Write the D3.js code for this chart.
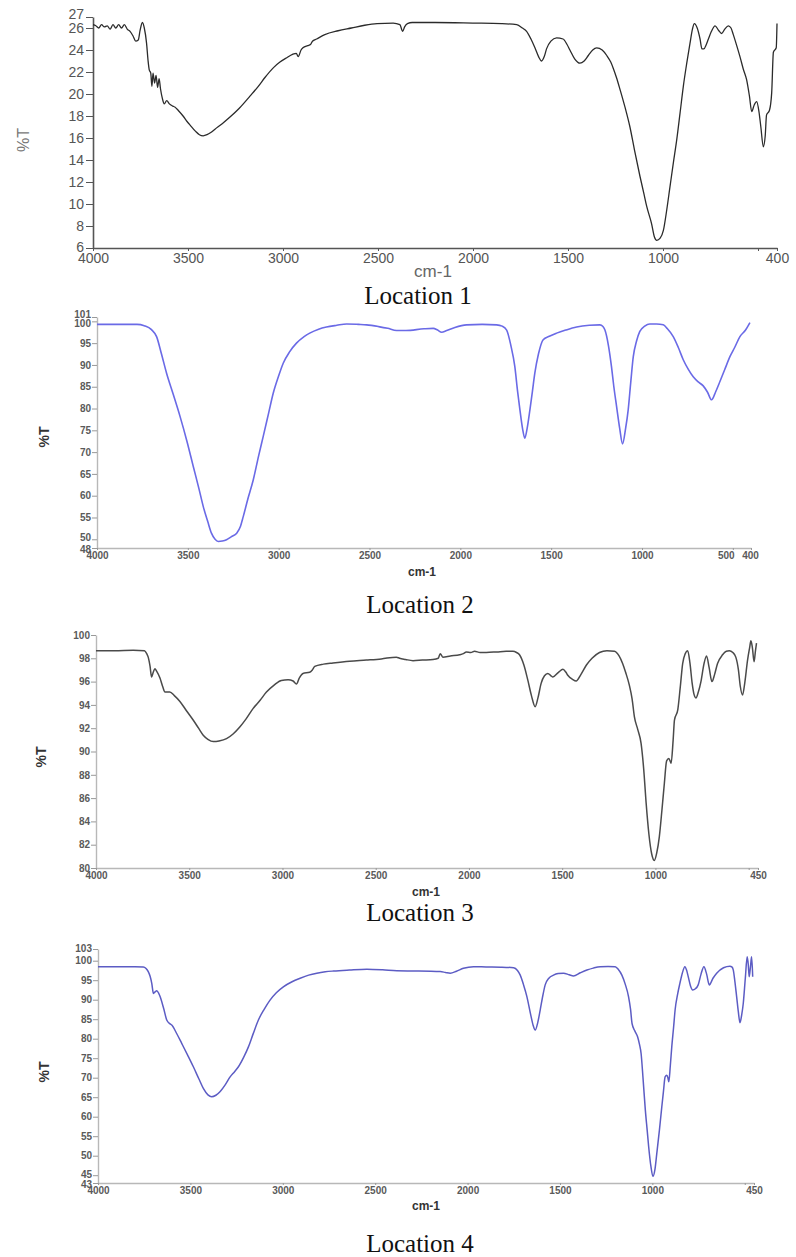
<!DOCTYPE html>
<html><head><meta charset="utf-8">
<script src="https://cdn.jsdelivr.net/npm/d3@7"></script>
<style>body{margin:0;background:#fff}svg{display:block}</style>
</head><body>
<svg id="c" width="796" height="1257"></svg>
<script>
// ---- data: [wavenumber cm-1, %T] ----
const loc1 = [[4000,26.3],[3985,26.2],[3970,26.0],[3955,26.3],[3940,26.1],[3925,26.2],[3910,25.9],[3895,26.3],[3880,26.0],[3865,26.3],[3850,26.0],[3835,26.3],[3820,25.9],[3805,25.7],[3790,25.3],[3775,24.8],[3762,24.9],[3752,25.8],[3740,26.5],[3730,26.0],[3718,24.6],[3710,23.0],[3704,22.2],[3696,21.9],[3690,20.7],[3684,21.9],[3676,21.0],[3668,21.7],[3660,20.6],[3652,21.4],[3645,20.5],[3635,19.6],[3625,19.1],[3612,19.4],[3598,19.1],[3580,18.9],[3568,18.8],[3551,18.5],[3526,18.0],[3505,17.5],[3490,17.2],[3460,16.6],[3440,16.3],[3420,16.2],[3400,16.3],[3380,16.5],[3358,16.8],[3320,17.3],[3279,17.9],[3230,18.7],[3174,19.8],[3130,20.7],[3095,21.5],[3050,22.4],[3016,22.9],[2980,23.3],[2950,23.6],[2930,23.7],[2920,23.4],[2905,24.0],[2895,24.2],[2870,24.4],[2855,24.5],[2845,24.8],[2823,25.0],[2780,25.4],[2710,25.75],[2640,26.0],[2570,26.25],[2505,26.4],[2420,26.45],[2385,26.3],[2370,25.7],[2360,26.1],[2345,26.4],[2320,26.5],[2200,26.5],[2000,26.45],[1850,26.4],[1770,26.3],[1740,26.0],[1718,25.7],[1695,25.0],[1674,24.2],[1655,23.4],[1639,23.0],[1625,23.4],[1613,24.1],[1590,24.8],[1560,25.1],[1526,25.0],[1505,24.5],[1490,24.0],[1465,23.2],[1437,22.8],[1415,23.0],[1393,23.5],[1370,24.0],[1349,24.2],[1320,24.0],[1296,23.5],[1275,22.9],[1261,22.3],[1245,21.5],[1226,20.4],[1200,18.8],[1174,17.0],[1150,14.9],[1121,12.5],[1100,10.9],[1086,9.8],[1060,8.2],[1045,7.0],[1033,6.7],[1015,6.9],[998,7.6],[980,9.5],[963,11.6],[945,13.8],[928,15.8],[910,18.3],[893,20.7],[875,22.8],[858,24.6],[845,25.9],[835,26.4],[820,26.0],[805,25.0],[795,24.1],[785,24.1],[772,24.5],[761,25.0],[745,25.7],[726,26.2],[708,25.8],[691,25.5],[675,25.9],[656,26.2],[642,26.0],[630,25.4],[612,24.4],[595,23.4],[578,22.3],[560,21.3],[545,19.8],[533,18.4],[520,19.0],[507,19.3],[495,18.4],[485,17.0],[472,15.2],[462,16.2],[455,18.1],[440,18.5],[428,20.1],[419,23.8],[404,24.2],[400,26.4]];

const loc2 = [[4000,99.3],[3900,99.3],[3780,99.3],[3740,99.0],[3700,98.1],[3672,96.5],[3645,92.5],[3617,88.1],[3580,83.2],[3543,78.2],[3505,72.5],[3470,66.7],[3440,61.8],[3415,57.5],[3390,54.0],[3370,51.4],[3350,50.0],[3333,49.5],[3310,49.6],[3287,49.9],[3260,50.6],[3231,51.4],[3210,53.0],[3195,55.2],[3170,59.2],[3140,63.6],[3110,69.2],[3085,73.6],[3055,79.0],[3030,83.5],[3000,87.5],[2975,90.4],[2940,93.0],[2902,95.0],[2860,96.5],[2829,97.3],[2780,98.2],[2737,98.7],[2680,99.1],[2626,99.4],[2560,99.3],[2516,99.2],[2450,98.8],[2400,98.4],[2351,97.9],[2300,97.9],[2200,98.3],[2149,98.4],[2125,98.0],[2103,97.5],[2075,97.9],[2030,98.6],[1966,99.2],[1880,99.3],[1800,99.2],[1770,98.9],[1745,98.0],[1722,94.5],[1700,89.6],[1685,84.0],[1672,79.7],[1658,75.5],[1645,73.2],[1632,75.5],[1617,79.7],[1603,84.0],[1590,88.1],[1570,92.5],[1544,95.8],[1510,96.6],[1470,97.3],[1420,98.0],[1360,98.7],[1290,99.1],[1232,99.2],[1215,98.8],[1204,98.0],[1185,94.5],[1168,89.6],[1155,85.0],[1140,80.5],[1123,75.5],[1107,71.9],[1090,75.5],[1076,79.7],[1062,86.0],[1048,91.9],[1030,95.5],[1012,97.7],[985,98.9],[957,99.4],[920,99.4],[883,99.2],[860,98.3],[828,96.5],[800,94.0],[773,91.2],[745,89.0],[718,87.3],[690,86.1],[663,85.2],[640,83.8],[617,82.0],[595,83.8],[571,86.2],[545,88.9],[516,91.9],[490,94.0],[461,96.5],[430,98.0],[406,99.7]];

const loc3 = [[4000,98.65],[3900,98.65],[3800,98.7],[3740,98.65],[3728,98.4],[3720,98.1],[3710,97.3],[3702,96.4],[3693,96.8],[3684,97.1],[3675,96.9],[3657,96.3],[3643,95.6],[3630,95.1],[3604,95.1],[3580,94.8],[3550,94.3],[3515,93.5],[3479,92.7],[3450,92.0],[3425,91.4],[3400,91.05],[3371,90.85],[3340,90.9],[3300,91.1],[3265,91.5],[3229,92.1],[3195,92.8],[3157,93.7],[3120,94.4],[3086,95.1],[3045,95.7],[3006,96.1],[2970,96.15],[2943,96.05],[2925,95.8],[2910,96.3],[2890,96.7],[2854,96.8],[2840,97.0],[2827,97.3],[2780,97.5],[2729,97.6],[2640,97.75],[2550,97.85],[2470,97.95],[2389,98.1],[2372,98.0],[2340,97.9],[2300,97.8],[2250,97.85],[2193,97.9],[2165,98.0],[2154,98.4],[2140,98.1],[2100,98.2],[2050,98.3],[2030,98.4],[2014,98.55],[1990,98.5],[1970,98.6],[1940,98.5],[1907,98.5],[1850,98.55],[1800,98.6],[1764,98.6],[1745,98.5],[1729,98.3],[1705,97.4],[1684,96.1],[1665,94.8],[1645,93.85],[1630,94.6],[1613,95.85],[1595,96.5],[1577,96.7],[1560,96.5],[1550,96.4],[1520,96.8],[1496,97.05],[1480,96.8],[1470,96.55],[1445,96.2],[1425,96.05],[1400,96.6],[1371,97.4],[1340,98.0],[1300,98.5],[1260,98.65],[1220,98.6],[1195,98.2],[1176,97.55],[1160,96.8],[1140,95.7],[1125,94.5],[1113,93.0],[1095,91.9],[1077,90.7],[1063,88.5],[1050,85.6],[1035,82.9],[1020,81.2],[1006,80.65],[993,81.3],[979,82.7],[965,85.0],[952,87.3],[940,89.2],[928,89.4],[916,89.0],[905,91.0],[898,92.7],[880,93.6],[867,95.5],[854,97.55],[840,98.4],[827,98.65],[815,97.6],[803,95.85],[793,94.9],[783,94.6],[770,95.1],[756,96.0],[740,97.5],[726,98.2],[712,97.2],[697,96.0],[683,96.6],[667,97.55],[640,98.3],[620,98.6],[604,98.65],[585,98.5],[569,98.1],[555,97.0],[545,95.6],[533,94.85],[520,96.0],[506,97.85],[495,98.9],[488,99.5],[480,98.9],[471,97.7],[464,98.6],[458,99.3]];

const loc4 = [[4000,98.46],[3900,98.46],[3800,98.46],[3755,98.4],[3740,98.0],[3728,97.2],[3718,96.0],[3709,94.2],[3700,91.6],[3691,92.0],[3682,92.3],[3672,91.7],[3664,90.8],[3645,87.8],[3628,84.8],[3610,83.8],[3601,83.5],[3575,81.4],[3547,78.8],[3515,75.8],[3484,72.8],[3455,69.8],[3430,67.25],[3405,65.6],[3385,65.1],[3362,65.5],[3340,66.4],[3310,68.3],[3285,70.2],[3260,71.6],[3240,72.8],[3212,75.2],[3186,77.9],[3160,81.3],[3132,84.8],[3100,87.6],[3069,89.9],[3035,91.8],[2997,93.3],[2950,94.6],[2906,95.5],[2860,96.3],[2816,96.8],[2770,97.15],[2726,97.35],[2640,97.6],[2545,97.8],[2460,97.65],[2383,97.4],[2300,97.35],[2200,97.3],[2148,97.2],[2120,97.0],[2094,96.8],[2060,97.3],[2022,98.05],[1968,98.46],[1900,98.4],[1820,98.35],[1751,98.2],[1730,97.5],[1715,96.3],[1697,93.8],[1679,90.8],[1660,86.5],[1645,83.4],[1634,82.2],[1620,84.2],[1607,87.35],[1595,90.5],[1580,93.8],[1560,95.5],[1535,96.3],[1510,96.7],[1481,96.8],[1450,96.4],[1427,96.1],[1390,96.9],[1354,97.6],[1320,98.1],[1282,98.46],[1240,98.5],[1201,98.46],[1185,97.8],[1165,96.3],[1147,94.0],[1129,90.8],[1118,87.5],[1110,83.9],[1095,82.0],[1080,80.5],[1070,78.6],[1061,76.2],[1050,69.5],[1038,61.7],[1028,56.5],[1020,52.3],[1008,47.3],[997,44.7],[986,46.5],[976,50.6],[962,56.5],[949,62.5],[940,66.5],[931,70.2],[922,70.6],[916,70.0],[911,68.95],[903,73.0],[895,77.9],[885,83.0],[877,87.35],[863,91.5],[851,94.2],[838,96.8],[824,98.46],[815,97.6],[806,95.9],[794,93.6],[782,92.5],[767,92.8],[752,93.8],[737,96.5],[721,98.46],[706,96.5],[692,93.8],[672,95.5],[652,96.8],[615,98.2],[580,98.6],[570,98.4],[562,97.6],[553,94.5],[544,90.8],[535,87.0],[526,84.1],[517,86.0],[508,89.1],[497,95.5],[487,101.0],[481,99.0],[476,95.9],[469,98.5],[463,101.0],[457,95.9]];

// ---- tick labels ----
const xTicks1 = [4000,3500,3000,2500,2000,1500,1000,500,400];
const xLabels1 = ["4000","3500","3000","2500","2000","1500","1000","","400"];
const yTicks1 = [27,26,24,22,20,18,16,14,12,10,8,6];
const xTicks2 = [4000,3500,3000,2500,2000,1500,1000,500,400];
const xLabels2 = ["4000","3500","3000","2500","2000","1500","1000","500","400"];
const yTicks2 = [101,100,95,90,85,80,75,70,65,60,55,50,48];
const xTicks3 = [4000,3500,3000,2500,2000,1500,1000,500,450];
const xLabels3 = ["4000","3500","3000","2500","2000","1500","1000","","450"];
const yTicks3 = [100,98,96,94,92,90,88,86,84,82,80];
const xTicks4 = [4000,3500,3000,2500,2000,1500,1000,500,450];
const xLabels4 = ["4000","3500","3000","2500","2000","1500","1000","","450"];
const yTicks4 = [103,100,95,90,85,80,75,70,65,60,55,50,45,43];
const captions = ["Location 1","Location 2","Location 3","Location 4"];

const svg = d3.select("#c");

const panels = [
  {data:loc1, xd:[4000,400], xr:[93,777], yd:[6,27], yr:[248,17], xt:xTicks1, xl:xLabels1, yt:yTicks1,
   line:"#2b2b2b", lw:1.3, axis:"#555", style:"p1", ylab:[25,140], xlab:[433,277], cap:[418,304], cap_t:captions[0],
   nudge:{27:-3, 6:-1}},
  {data:loc2, xd:[4000,400], xr:[97,751], yd:[48,101], yr:[548,317], xt:xTicks2, xl:xLabels2, yt:yTicks2,
   line:"#6a6ae6", lw:1.6, axis:"#b8b8b8", style:"p2", ylab:[45,437], xlab:[422,576], cap:[420,613], cap_t:captions[1],
   nudge:{101:-3, 100:2, 50:-2, 48:1}},
  {data:loc3, xd:[4000,450], xr:[96,758], yd:[80,100], yr:[868,635], xt:xTicks3, xl:xLabels3, yt:yTicks3,
   line:"#4a4a4a", lw:1.5, axis:"#b8b8b8", style:"p2", ylab:[42,757], xlab:[426,896], cap:[420,921], cap_t:captions[2],
   nudge:{}},
  {data:loc4, xd:[4000,450], xr:[98,754], yd:[43,103], yr:[1183,949], xt:xTicks4, xl:xLabels4, yt:yTicks4,
   line:"#5c5cc4", lw:1.5, axis:"#b8b8b8", style:"p2", ylab:[45,1072], xlab:[426,1210], cap:[420,1252], cap_t:captions[3],
   nudge:{103:-1, 45:-1, 43:1}}
];

panels.forEach(p => {
  const x = d3.scaleLinear().domain(p.xd).range(p.xr);
  const y = d3.scaleLinear().domain(p.yd).range(p.yr);
  const g = svg.append("g");
  const p1 = p.style === "p1";
  const fs = p1 ? 14 : 10;
  const fw = p1 ? "normal" : "bold";
  const tcol = p1 ? "#555" : "#5a5a5a";

  // y axis
  const ya = d3.axisLeft(y).tickValues(p.yt).tickSize(p1 ? 7 : 5).tickSizeOuter(0).tickFormat(d3.format("d"));
  const yg = g.append("g").attr("transform", `translate(${p.xr[0]},0)`).call(ya);
  // x axis
  const xa = d3.axisBottom(x).tickValues(p.xt).tickSize(p1 ? 3 : 2).tickSizeOuter(0).tickFormat((d,i) => p.xl[i]);
  const xg = g.append("g").attr("transform", `translate(0,${p.yr[0]})`).call(xa);
  [yg, xg].forEach(a => {
    a.select(".domain").attr("stroke", p.axis).attr("stroke-width", p1 ? 1.6 : 1.4);
    a.selectAll(".tick line").attr("stroke", p1 ? "#555" : "#999");
    a.selectAll("text").attr("fill", tcol).attr("font-family", "Liberation Sans, Arial, sans-serif")
      .attr("font-size", fs).attr("font-weight", fw);
  });
  yg.selectAll("text").attr("x", p1 ? -9 : -6);
  yg.selectAll(".tick").select("text").attr("dy", d => (0.32 + (p.nudge[d] || 0) / fs) + "em");
  xg.selectAll("text").attr("y", p1 ? 5 : 4);
  if (!p1) {
    // crowded end labels sit side by side, as in the reference
    xg.selectAll(".tick").filter(d => d === 500).select("text").attr("dx", -7);
    xg.selectAll(".tick").filter(d => d === 400).select("text").attr("dx", -1);
  }

  // spectrum
  g.append("path").datum(p.data)
    .attr("fill", "none").attr("stroke", p.line).attr("stroke-width", p.lw).attr("stroke-linejoin", "round")
    .attr("d", d3.line().x(d => x(d[0])).y(d => y(d[1])).curve(d3.curveMonotoneX));

  // axis titles
  g.append("text").attr("transform", `translate(${p.ylab[0]},${p.ylab[1]}) rotate(-90)`)
    .attr("text-anchor", "middle").attr("dominant-baseline", "middle")
    .attr("font-family", "Liberation Sans, Arial, sans-serif")
    .attr("font-size", p1 ? 16 : 14).attr("font-weight", p1 ? "normal" : "bold")
    .attr("fill", p1 ? "#777" : "#333").text("%T");
  g.append("text").attr("x", p.xlab[0]).attr("y", p.xlab[1])
    .attr("text-anchor", "middle")
    .attr("font-family", "Liberation Sans, Arial, sans-serif")
    .attr("font-size", p1 ? 17 : 12).attr("font-weight", p1 ? "normal" : "bold")
    .attr("fill", p1 ? "#666" : "#333").text("cm-1");
  g.append("text").attr("x", p.cap[0]).attr("y", p.cap[1])
    .attr("text-anchor", "middle")
    .attr("font-family", "Liberation Serif, Times New Roman, serif")
    .attr("font-size", 25).attr("fill", "#111").text(p.cap_t);
});
</script>
</body></html>
